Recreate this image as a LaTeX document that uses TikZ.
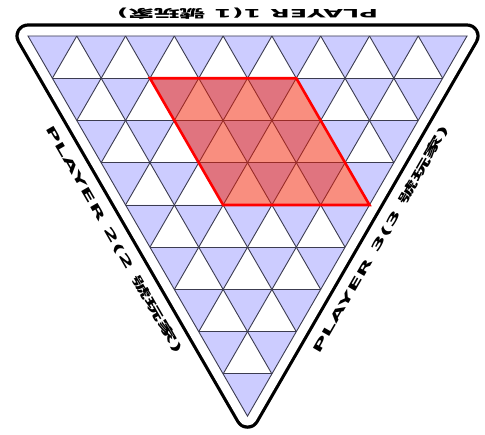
\documentclass[tikz,border=0pt]{standalone}
\usepackage{fontspec}
\setmainfont{DejaVu Sans}
\newfontfamily\cjk{Noto Sans CJK TC}
\usepackage{graphicx}
\usepackage{tikz}
\usetikzlibrary{calc}
\definecolor{plav}{HTML}{CCCCFF}
\definecolor{pgrid}{HTML}{3C3C50}
\definecolor{pzone}{HTML}{F51E00}
\tikzset{
  % unit vectors of the triangular board (one cell edge each)
  board/.style    = {x={(48.78pt,0pt)}, y={(24.39pt,-42.24pt)}},
  cell/.style     = {fill=plav},
  gridline/.style = {draw=pgrid, line width=0.9pt},
  rimout/.style   = {draw=black, line width=25.2pt, line join=round},
  rimin/.style    = {draw=white, fill=white, line width=18.8pt, line join=round},
  zone/.style     = {fill=pzone, fill opacity=0.5},
  zoneedge/.style = {draw=red, line width=2.6pt, line join=miter},
  plabel/.style   = {font=\bfseries\fontsize{11.5}{12}\selectfont, inner sep=0pt},
}

\begin{document}
\begin{tikzpicture}[board]
\useasboundingbox (-28pt,36pt) rectangle (457pt,-399pt);
\coordinate (tl) at (0,0);
\coordinate (tr) at (9,0);
\coordinate (bt) at (0,9);
% frame round the board
\draw[rimout] (tl) -- (tr) -- (bt) -- cycle;
\draw[rimin] (tl) -- (tr) -- (bt) -- cycle;
% cells pointing down
\foreach \j in {0,...,8}{
  \pgfmathtruncatemacro\last{8-\j}
  \foreach \i in {0,...,\last}{
    \fill[cell] (\i,\j) -- (\i+1,\j) -- (\i,\j+1) -- cycle;
  }
}
% grid lines, three directions
\foreach \k in {1,...,8}{
  \pgfmathtruncatemacro\len{9-\k}
  \draw[gridline] (0,\k) -- (\len,\k);
  \draw[gridline] (\k,0) -- (\k,\len);
  \draw[gridline] (\k,0) -- (0,\k);
}
\draw[gridline] (tl) -- (tr) -- (bt) -- cycle;
% marked rhombus
\fill[zone] (2,1) -- (5,1) -- (5,4) -- (2,4) -- cycle;
\draw[zoneedge] (2,1) -- (5,1) -- (5,4) -- (2,4) -- cycle;
% player names
\node[plabel, rotate=180] (p1) at ($(tl)!0.5!(tr)+(0pt,22pt)$)
      {\resizebox{261pt}{\height}{PLAYER 1(1 {\cjk 號玩家})}};
\node[plabel, rotate=-60] (p2) at ($(tl)!0.5!(bt)+(210:27pt)$)
      {\resizebox{261pt}{\height}{PLAYER 2(2 {\cjk 號玩家})}};
\node[plabel, rotate=60] (p3) at ($(tr)!0.5!(bt)+(330:27pt)$)
      {\resizebox{261pt}{\height}{PLAYER 3(3 {\cjk 號玩家})}};
\end{tikzpicture}
\end{document}
